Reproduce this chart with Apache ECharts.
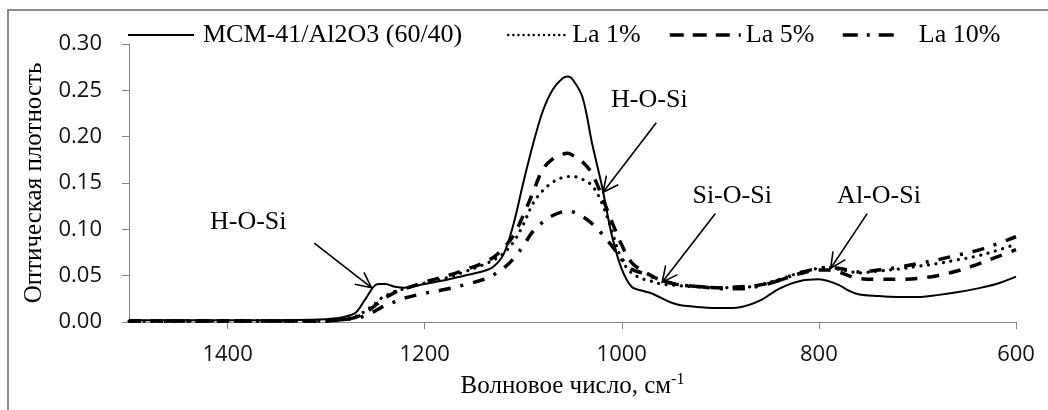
<!DOCTYPE html>
<html>
<head>
<meta charset="utf-8">
<script src="https://cdn.jsdelivr.net/npm/echarts@6/dist/echarts.min.js"></script>
<style>
  html, body { margin: 0; padding: 0; background: #fff; }
  #chart { width: 1048px; height: 410px; }
</style>
</head>
<body>
<div id="chart"></div>
<script>
// Wavenumber grid, cm^-1
const wavenumbers = [1500, 1450, 1400, 1350, 1300, 1290, 1280, 1270, 1260, 1250, 1245, 1240, 1230, 1220, 1200, 1180, 1160, 1140, 1130, 1120, 1110, 1100, 1090, 1080, 1070, 1060, 1055, 1050, 1040, 1030, 1020, 1010, 1000, 990, 980, 970, 960, 950, 940, 920, 900, 880, 860, 840, 820, 800, 790, 780, 770, 760, 740, 720, 700, 680, 660, 640, 620, 600];

// Optical density of each sample
const mcm41 = [0.002, 0.002, 0.002, 0.002, 0.003, 0.004, 0.006, 0.010, 0.025, 0.040, 0.041, 0.041, 0.038, 0.037, 0.041, 0.045, 0.050, 0.055, 0.060, 0.073, 0.105, 0.150, 0.192, 0.228, 0.251, 0.263, 0.265, 0.262, 0.243, 0.192, 0.146, 0.093, 0.057, 0.038, 0.034, 0.031, 0.026, 0.021, 0.018, 0.016, 0.015, 0.016, 0.023, 0.036, 0.044, 0.046, 0.044, 0.040, 0.034, 0.030, 0.028, 0.027, 0.027, 0.029, 0.032, 0.036, 0.041, 0.049];
const la1 = [0.001, 0.001, 0.001, 0.001, 0.001, 0.002, 0.004, 0.006, 0.012, 0.020, 0.025, 0.028, 0.033, 0.036, 0.042, 0.047, 0.054, 0.062, 0.067, 0.074, 0.086, 0.105, 0.128, 0.142, 0.151, 0.156, 0.157, 0.157, 0.154, 0.147, 0.128, 0.098, 0.067, 0.053, 0.047, 0.044, 0.041, 0.040, 0.039, 0.038, 0.037, 0.037, 0.040, 0.046, 0.053, 0.058, 0.059, 0.057, 0.055, 0.053, 0.055, 0.057, 0.060, 0.063, 0.067, 0.071, 0.077, 0.084];
const la5 = [0.001, 0.001, 0.001, 0.001, 0.001, 0.002, 0.003, 0.005, 0.010, 0.018, 0.022, 0.026, 0.032, 0.036, 0.043, 0.049, 0.056, 0.064, 0.070, 0.080, 0.093, 0.115, 0.140, 0.165, 0.176, 0.181, 0.182, 0.180, 0.173, 0.160, 0.135, 0.108, 0.083, 0.064, 0.056, 0.050, 0.045, 0.042, 0.040, 0.038, 0.037, 0.038, 0.040, 0.045, 0.052, 0.056, 0.056, 0.054, 0.050, 0.047, 0.046, 0.046, 0.047, 0.050, 0.055, 0.062, 0.070, 0.078];
const la10 = [0.001, 0.001, 0.001, 0.001, 0.001, 0.002, 0.003, 0.004, 0.007, 0.012, 0.015, 0.018, 0.022, 0.026, 0.031, 0.035, 0.040, 0.046, 0.051, 0.058, 0.068, 0.082, 0.098, 0.108, 0.115, 0.119, 0.120, 0.119, 0.114, 0.106, 0.095, 0.082, 0.068, 0.057, 0.053, 0.049, 0.045, 0.042, 0.040, 0.038, 0.036, 0.036, 0.039, 0.045, 0.053, 0.058, 0.059, 0.058, 0.056, 0.054, 0.056, 0.059, 0.063, 0.067, 0.072, 0.077, 0.084, 0.092];

const seriesNames = ['MCM-41/Al2O3 (60/40)', 'La 1%', 'La 5%', 'La 10%'];
const xTicks = [600, 800, 1000, 1200, 1400];

// Band assignments: label, label position [wn, OD], arrow tail [wn, OD], arrow tip [wn, OD]
const bandLabels = ['H-O-Si', 'H-O-Si', 'Si-O-Si', 'Al-O-Si'];
const bandLabelAt = [[1379, 0.108], [972, 0.239], [888, 0.136], [739, 0.136]];
const bandTail = [[1312, 0.085], [965, 0.215], [905, 0.117], [751, 0.117]];
const bandTip = [[1254, 0.037], [1019, 0.140], [959, 0.043], [788, 0.058]];

const serif = '"Liberation Serif", "Times New Roman", serif';
const sans = '"Open Sans", sans-serif';
const axisGray = '#868686';

function pairs(ys) { return wavenumbers.map((w, i) => [w, ys[i]]); }

const lineStyles = [
  { color: '#000', width: 2, type: 'solid' },
  { color: '#000', width: 3.2, type: [0.1, 7.5], cap: 'round' },
  { color: '#000', width: 3.5, type: [12, 10], cap: 'butt' },
  { color: '#000', width: 3.5, type: [12, 10, 3, 10], cap: 'butt' }
];
// Legend swatches use a tighter pattern than the curves
const legendLines = [
  { color: '#000', width: 2, type: 'solid' },
  { color: '#000', width: 2.4, type: [0.1, 5], cap: 'round' },
  { color: '#000', width: 3.5, type: [14, 9], cap: 'butt' },
  { color: '#000', width: 3.5, type: [15, 9, 3, 9], cap: 'butt' }
];
const allSeries = [mcm41, la1, la5, la10];

// One legend block per series so each entry sits at its own spot
const legendLayout = [
  { left: 122, itemWidth: 66, pad: 4 },
  { left: 502, itemWidth: 57, pad: 2 },
  { left: 663, itemWidth: 71, pad: 0 },
  { left: 836, itemWidth: 56, pad: 15 }
];

const chart = echarts.init(document.getElementById('chart'), null, { renderer: 'canvas' });

chart.setOption({
  animation: false,
  backgroundColor: '#fff',
  grid: { left: 129, right: 32, top: 44, bottom: 88, containLabel: false },
  legend: seriesNames.map((name, i) => ({
    data: [name],
    left: legendLayout[i].left,
    top: 17,
    itemWidth: legendLayout[i].itemWidth,
    itemHeight: 14,
    selectedMode: false,
    itemStyle: { opacity: 0 },
    lineStyle: legendLines[i],
    textStyle: { fontFamily: serif, fontSize: 26, color: '#000', padding: [0, 0, 0, legendLayout[i].pad] }
  })),
  xAxis: {
    type: 'value',
    min: 600, max: 1500, interval: 200,
    inverse: true,
    name: 'Волновое число, см{sup|-1}',
    nameLocation: 'middle',
    nameGap: 50,
    nameTextStyle: {
      fontFamily: serif, fontSize: 25, color: '#000',
      rich: { sup: { fontFamily: serif, fontSize: 16, color: '#000', padding: [0, 0, 12, 0] } }
    },
    axisLine: { show: true, lineStyle: { color: axisGray, width: 1 } },
    axisTick: { show: true, length: 7, lineStyle: { color: axisGray }, customValues: xTicks },
    axisLabel: { fontFamily: sans, fontSize: 22, color: '#111', margin: 22, customValues: xTicks, formatter: v => String(v) },
    splitLine: { show: false }
  },
  yAxis: {
    type: 'value',
    min: 0, max: 0.3, interval: 0.05,
    name: 'Оптическая плотность',
    nameLocation: 'middle',
    nameGap: 82,
    nameTextStyle: { fontFamily: serif, fontSize: 25, color: '#000' },
    axisLine: { show: true, lineStyle: { color: axisGray, width: 1 } },
    axisTick: { show: true, length: 7, lineStyle: { color: axisGray } },
    axisLabel: { fontFamily: sans, fontSize: 22, color: '#111', margin: 27, formatter: v => v.toFixed(2) },
    splitLine: { show: false }
  },
  series: seriesNames.map((name, i) => ({
    name,
    type: 'line',
    data: pairs(allSeries[i]),
    symbol: 'none',
    showSymbol: false,
    smooth: 0.35,
    lineStyle: lineStyles[i],
    itemStyle: { color: '#000' },
    z: 4 - i
  }))
});

// Band labels with open arrowheads, placed in data coordinates
function arrowGraphics() {
  const out = [];
  for (let i = 0; i < bandLabels.length; i++) {
    const lp = chart.convertToPixel({ gridIndex: 0 }, bandLabelAt[i]);
    const tp = chart.convertToPixel({ gridIndex: 0 }, bandTail[i]);
    const hp = chart.convertToPixel({ gridIndex: 0 }, bandTip[i]);
    out.push({
      type: 'text', x: lp[0], y: lp[1], z: 10,
      style: { text: bandLabels[i], fontFamily: serif, fontSize: 26, fill: '#000', align: 'center', verticalAlign: 'middle' }
    });
    out.push({
      type: 'line', z: 10,
      shape: { x1: tp[0], y1: tp[1], x2: hp[0], y2: hp[1] },
      style: { stroke: '#000', lineWidth: 1.6 }
    });
    const dx = tp[0] - hp[0], dy = tp[1] - hp[1];
    const len = Math.hypot(dx, dy);
    const ux = dx / len, uy = dy / len;
    const a = 26 * Math.PI / 180, L = 17;
    const w1 = [hp[0] + L * (ux * Math.cos(a) - uy * Math.sin(a)), hp[1] + L * (ux * Math.sin(a) + uy * Math.cos(a))];
    const w2 = [hp[0] + L * (ux * Math.cos(-a) - uy * Math.sin(-a)), hp[1] + L * (ux * Math.sin(-a) + uy * Math.cos(-a))];
    out.push({
      type: 'polyline', z: 10,
      shape: { points: [w1, hp, w2] },
      style: { stroke: '#000', lineWidth: 1.6, fill: null }
    });
  }
  return out;
}

chart.setOption({
  graphic: [
    {
      type: 'rect', z: 0, silent: true,
      shape: { x: 8, y: 10, width: 1060, height: 420 },
      style: { stroke: '#8c8c8c', lineWidth: 2, fill: null }
    }
  ].concat(arrowGraphics())
});
</script>
</body>
</html>
